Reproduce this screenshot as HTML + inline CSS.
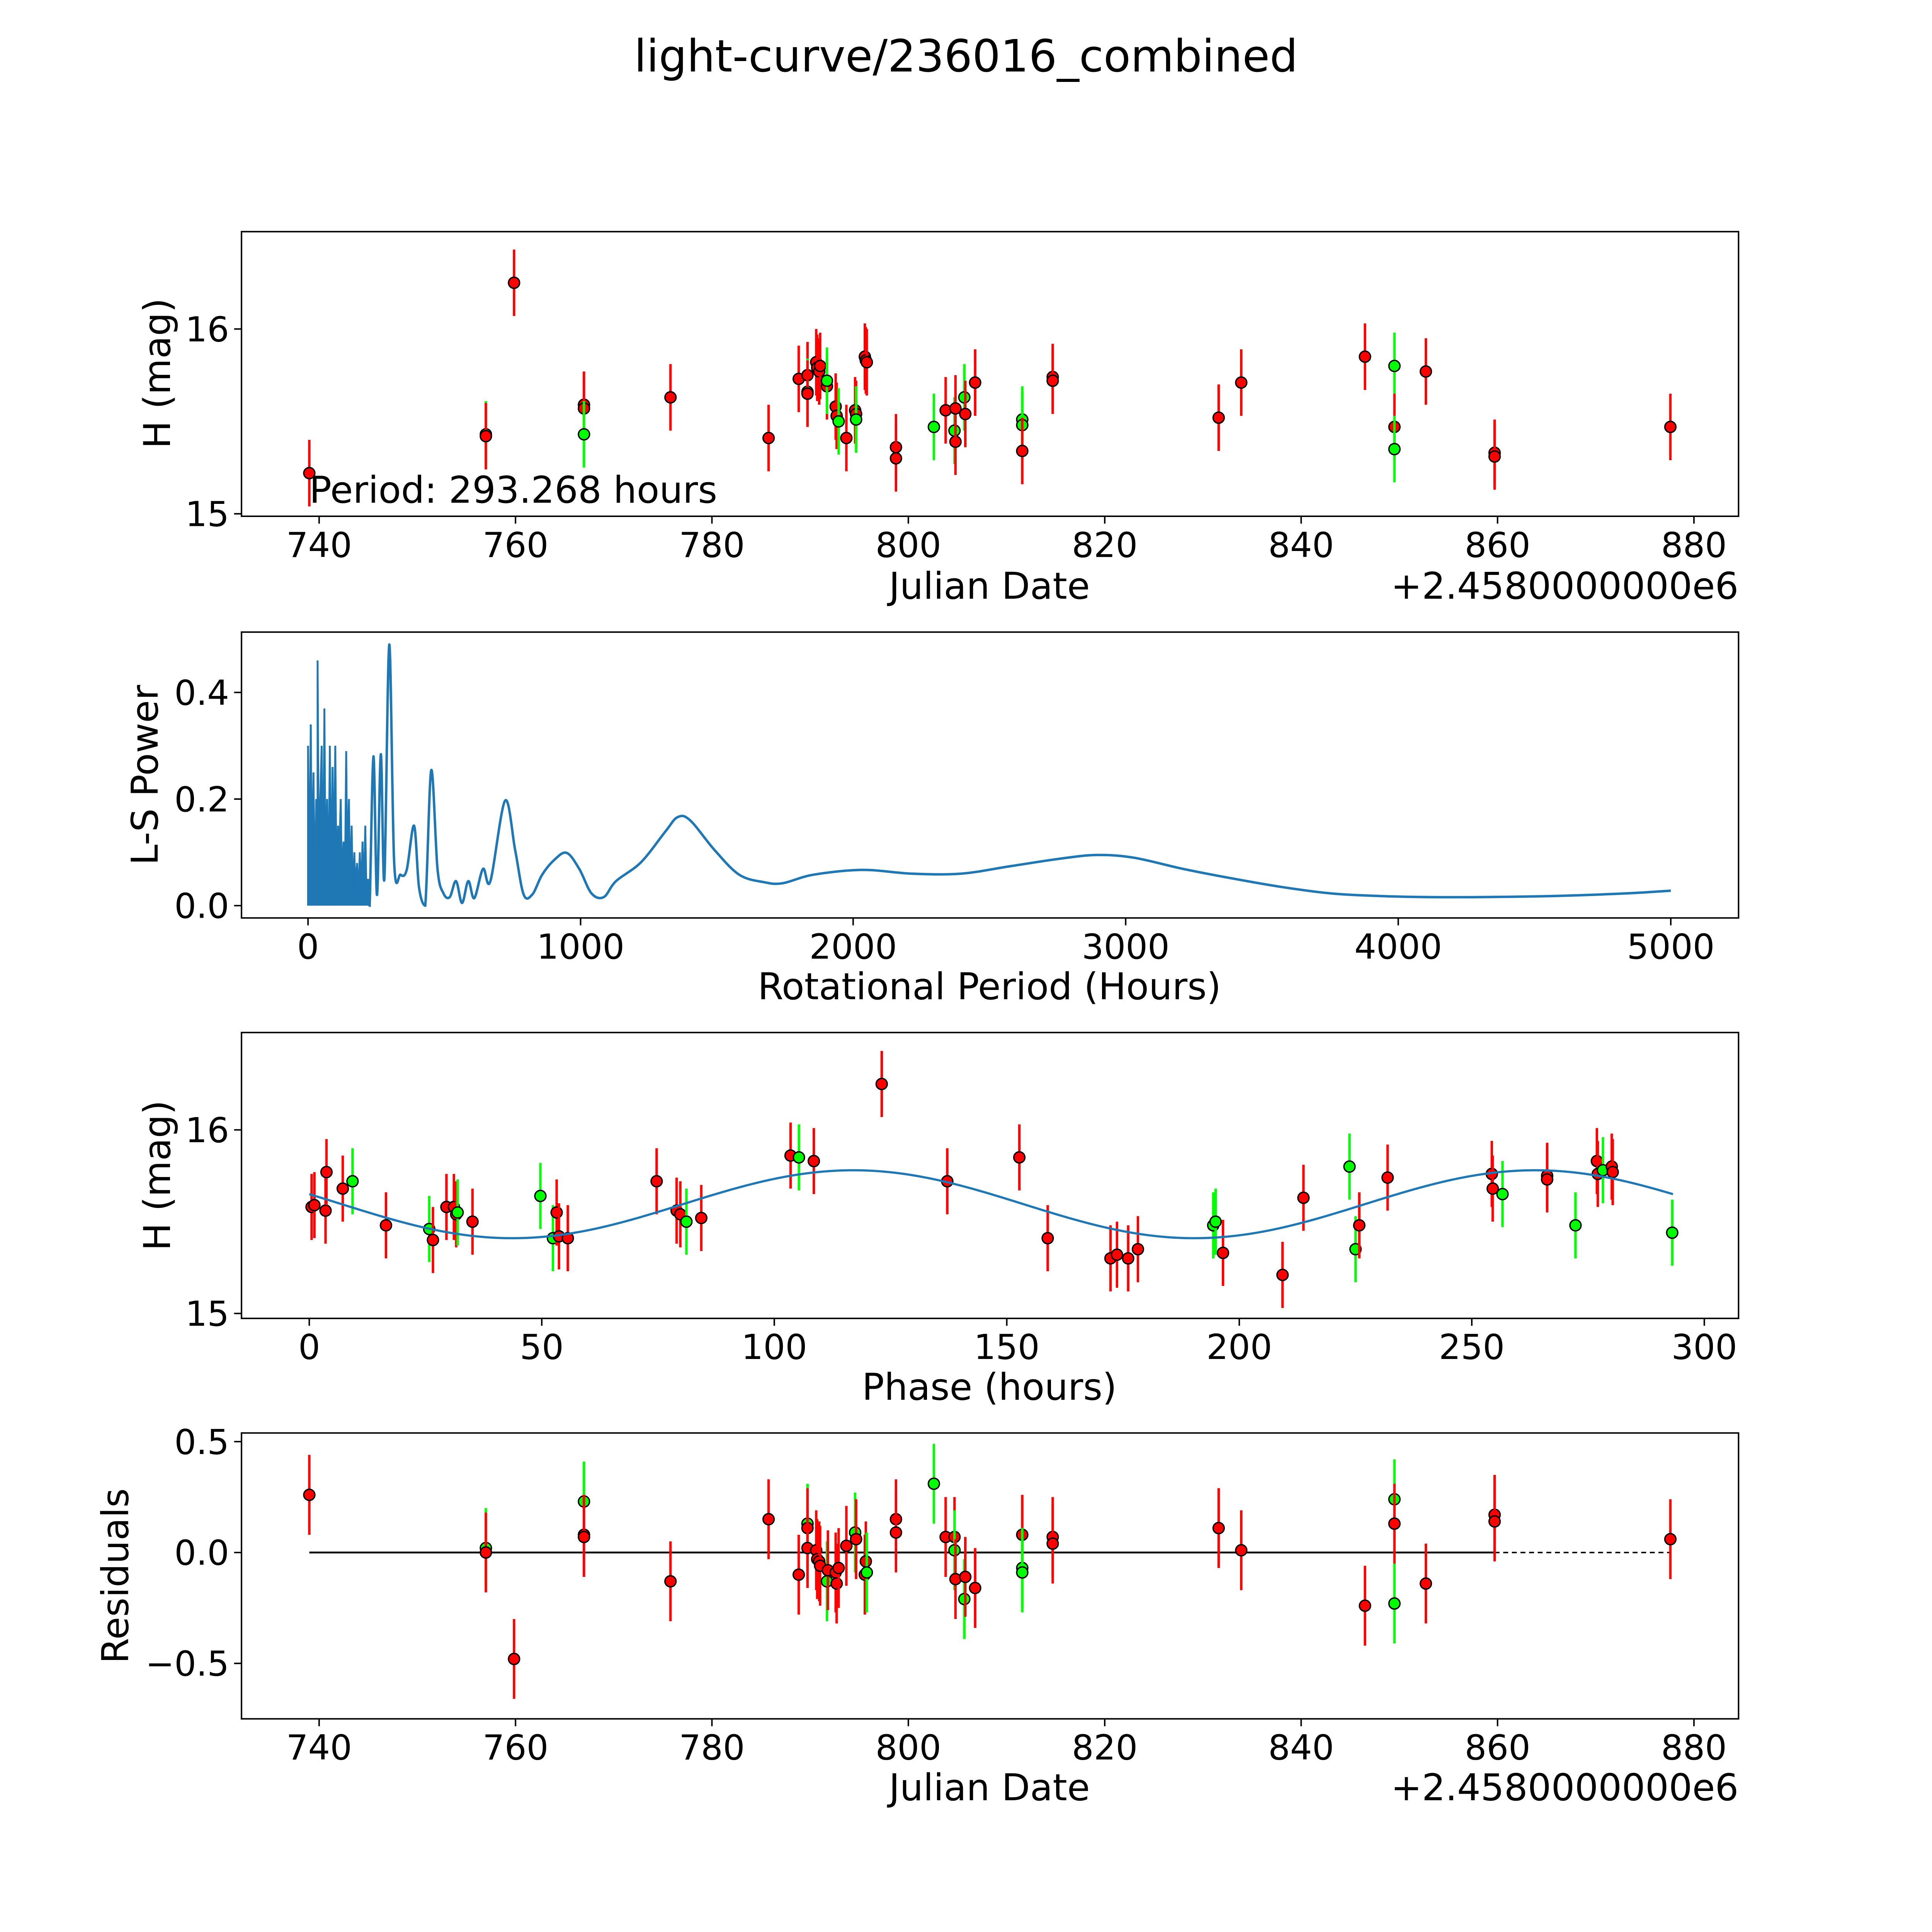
<!DOCTYPE html>
<html><head><meta charset="utf-8">
<style>
html,body{margin:0;padding:0;background:#fff;overflow:hidden;width:100vw;height:100vh;}
svg{display:block;position:fixed;left:0;top:0;width:100vw;height:100vh;font-family:"DejaVu Sans","Liberation Sans",sans-serif;}
</style></head>
<body>
<svg id="fig" xmlns="http://www.w3.org/2000/svg" viewBox="0 0 1568 1568" preserveAspectRatio="none">
<rect width="1568" height="1568" fill="#fff"/>
<text x="784" y="58" font-size="36" text-anchor="middle">light-curve/236016_combined</text>
<g id="p1"></g>
<g id="p2"></g>
<g id="p3"></g>
<g id="p4"></g>
</svg>
<script>
// ---- data ----
const lcDates=[739.0,756.98,756.98,759.85,766.97,766.97,766.97,775.78,785.77,788.84,789.73,789.73,789.73,790.62,790.72,790.92,791.02,791.71,791.71,792.60,792.70,792.90,793.69,794.58,794.68,794.68,795.57,795.67,795.77,798.74,798.74,802.6,803.8,804.7,804.8,804.8,805.7,805.8,806.8,811.6,811.6,811.6,814.7,814.7,831.6,833.9,846.5,849.5,849.5,849.5,852.7,859.7,859.7,877.6];
const lcMags=[15.22,15.43,15.42,16.25,15.59,15.57,15.43,15.63,15.41,15.73,15.75,15.66,15.65,15.82,15.79,15.77,15.80,15.69,15.72,15.58,15.53,15.50,15.41,15.56,15.54,15.51,15.85,15.83,15.82,15.36,15.30,15.47,15.56,15.45,15.39,15.57,15.63,15.54,15.71,15.51,15.48,15.34,15.74,15.72,15.52,15.71,15.85,15.80,15.47,15.35,15.77,15.33,15.31,15.47];
const lcColors=['r','g','r','r','r','r','g','r','r','r','r','g','r','r','r','r','r','r','g','r','r','g','r','r','r','g','r','r','r','r','r','g','r','g','r','r','g','r','r','g','g','r','r','r','r','r','r','g','r','g','r','r','r','r'];
const lcErr=0.18;

const lowPeriods=[0,5,10,15,20,25,30,35,40,45,50,55,60,65,70,75,80,85,90,95,100,105,110,115,120,125,130,135,140,145,150,155,160,165,170,175,180,185,190,195,200,205,210,215,220];
const lowPower=[0.3,0.05,0.34,0.1,0.25,0.02,0.2,0.46,0.05,0.2,0.3,0.02,0.37,0.1,0.2,0.02,0.3,0.05,0.26,0.1,0.3,0.02,0.15,0.1,0.2,0.05,0.12,0.02,0.29,0.1,0.2,0.03,0.15,0.02,0.1,0.05,0.08,0.02,0.1,0.03,0.12,0.02,0.15,0.02,0.05];
const hiPeriods=[226,240,253,267,280,298,316,339,362,389,407,430,452,475,497,520,543,565,588,610,642,669,723,760,791,823,859,904,949,995,1040,1085,1130,1221,1311,1356,1402,1492,1582,1673,1741,1854,2034,2215,2396,2577,2758,2893,3029,3210,3391,3572,3752,3933,4114,4295,4566,4837,5000];
const hiPower=[0.0,0.28,0.02,0.284,0.05,0.49,0.081,0.058,0.067,0.15,0.035,0.0,0.254,0.069,0.023,0.016,0.046,0.005,0.046,0.014,0.069,0.046,0.197,0.104,0.021,0.021,0.058,0.086,0.099,0.069,0.023,0.016,0.046,0.081,0.139,0.166,0.16,0.104,0.058,0.044,0.042,0.058,0.067,0.06,0.06,0.074,0.088,0.095,0.09,0.069,0.051,0.035,0.023,0.018,0.016,0.016,0.018,0.023,0.028];

const phHours=[0.5,1.1,3.5,3.7,7.2,9.3,16.5,25.8,26.6,29.5,31.1,31.6,31.9,35.1,49.7,52.4,53.2,53.7,55.6,74.7,79.0,79.8,81.1,84.3,103.5,105.3,108.5,123.1,137.2,152.7,158.8,172.3,173.7,176.1,178.2,194.4,194.9,196.5,209.3,213.8,223.7,225.0,225.8,231.9,254.3,254.5,256.6,266.2,266.2,272.3,276.9,277.1,278.2,280.1,280.3,293.1];
const phMags=[15.58,15.59,15.56,15.77,15.68,15.72,15.48,15.46,15.40,15.58,15.58,15.54,15.55,15.50,15.64,15.41,15.55,15.42,15.41,15.72,15.56,15.54,15.50,15.52,15.86,15.85,15.83,16.25,15.72,15.85,15.41,15.30,15.32,15.30,15.35,15.48,15.50,15.33,15.21,15.63,15.80,15.35,15.48,15.74,15.76,15.68,15.65,15.75,15.73,15.48,15.83,15.76,15.78,15.80,15.77,15.44];
const phColors=['r','r','r','r','r','g','r','g','r','r','r','r','g','r','g','g','r','r','r','r','r','r','g','r','r','g','r','r','r','r','r','r','r','r','r','g','g','r','r','r','g','g','r','r','r','r','g','r','r','g','r','r','g','r','r','g'];
const modelMean=15.595, modelAmp=0.185, modelPeriod=293.268, modelPhase=-3.442;

const resDates=[739.0,756.98,756.98,759.85,766.97,766.97,766.97,775.78,785.77,788.84,789.73,789.73,789.73,790.62,790.72,790.92,791.02,791.71,791.81,792.60,792.70,792.90,793.69,794.58,794.68,795.57,795.67,795.77,798.74,798.74,802.6,803.8,804.7,804.7,804.8,805.7,805.8,806.8,811.6,811.6,811.6,814.7,814.7,831.6,833.9,846.5,849.5,849.5,849.5,852.7,859.7,859.7,877.6];
const resVals=[0.26,0.02,0.0,-0.48,0.23,0.08,0.07,-0.13,0.15,-0.1,0.13,0.11,0.02,0.01,-0.03,-0.04,-0.06,-0.13,-0.08,-0.09,-0.14,-0.07,0.03,0.09,0.06,-0.10,-0.04,-0.09,0.15,0.09,0.31,0.07,0.07,0.01,-0.12,-0.21,-0.11,-0.16,0.08,-0.07,-0.09,0.07,0.04,0.11,0.01,-0.24,0.24,0.13,-0.23,-0.14,0.17,0.14,0.06];
const resColors=['r','g','r','r','g','r','r','r','r','r','g','r','r','r','r','r','r','g','r','r','r','r','r','g','r','r','r','g','r','r','g','r','r','g','r','g','r','r','r','g','g','r','r','r','r','r','g','r','g','r','r','r','r'];

// ---- helpers ----
const NS='http://www.w3.org/2000/svg';
function mk(parent,tag,attrs,text){const e=document.createElementNS(NS,tag);for(const k in attrs)e.setAttribute(k,attrs[k]);if(text!==undefined)e.textContent=text;parent.appendChild(e);return e;}
const L=196,R=1411;
const jdX=d=>259+(d-740)*7.97;
function frame(g,top,bot){
  const r=mk(g,'rect',{x:L,y:top,width:R-L,height:bot-top,fill:'none',stroke:'#000','stroke-width':1.2});
  
  
}
function xtick(g,x,bot,label){
  mk(g,'line',{x1:x,x2:x,y1:bot,y2:bot+6,stroke:'#000','stroke-width':1.2});
  const t=mk(g,'text',{x:x,y:bot+33,'font-size':28,'text-anchor':'middle'},label);
  
  
}
function ytick(g,y,label){
  mk(g,'line',{x1:L-6,x2:L,y1:y,y2:y,stroke:'#000','stroke-width':1.2});
  const t=mk(g,'text',{x:L-10,y:y+10,'font-size':28,'text-anchor':'end'},label);
  
  
}
function xlabel(g,y,label,name){
  const t=mk(g,'text',{x:803,y:y,'font-size':30,'text-anchor':'middle'},label);
  
  
}
function ylabel(g,x,y,label,name){
  const t=mk(g,'text',{x:x,y:y,'font-size':30,'text-anchor':'middle',transform:`rotate(-90 ${x} ${y})`},label);
  
  
}
function point(g,x,y,ePx,c,name){
  const col=c==='g'?'#00ff00':'#ff0000';
  const l=mk(g,'line',{x1:x,x2:x,y1:y-ePx,y2:y+ePx,stroke:col,'stroke-width':2});
  
  
  const p=mk(g,'circle',{cx:x,cy:y,r:4.5,fill:col,stroke:'#000','stroke-width':1.1});
  
  
}
const jdTicks=[740,760,780,800,820,840,860,880];

// ---- panel 1 ----
(function(){
  const g=document.getElementById('p1'),top=188,bot=419;
  const yS=m=>267-(m-16)*150;
  lcDates.forEach((d,i)=>point(g,jdX(d),yS(lcMags[i]),lcErr*150,lcColors[i],'lc-point'));
  frame(g,top,bot);
  jdTicks.forEach(v=>xtick(g,jdX(v),bot,v));
  [16,15].forEach(v=>ytick(g,yS(v),v));
  xlabel(g,486,'Julian Date','x-axis-title');
  const o=mk(g,'text',{x:R,y:486,'font-size':30,'text-anchor':'end'},'+2.4580000000e6');
  
  
  ylabel(g,138,303,'H (mag)','y-axis-title');
  const pt=mk(g,'text',{x:251,y:408,'font-size':30},'Period: 293.268 hours');
  
  
})();

// ---- panel 2 ----
(function(){
  const g=document.getElementById('p2'),top=513,bot=745;
  const xS=h=>250+h*0.2212, yS=p=>735-p*432.5;
  // smooth (Catmull-Rom) path through high-period part
  const xs=[xS(lowPeriods[lowPeriods.length-1])].concat(hiPeriods.map(xS));
  const ys=[yS(lowPower[lowPower.length-1])].concat(hiPower.map(yS));
  let d='M'+xs[0].toFixed(2)+','+ys[0].toFixed(2);
  for(let i=0;i<xs.length-1;i++){
    const x0=xs[Math.max(i-1,0)],y0=ys[Math.max(i-1,0)],x1=xs[i],y1=ys[i],x2=xs[i+1],y2=ys[i+1],x3=xs[Math.min(i+2,xs.length-1)],y3=ys[Math.min(i+2,xs.length-1)];
    const c1x=x1+(x2-x0)/6,c1y=y1+(y2-y0)/6,c2x=x2-(x3-x1)/6,c2y=y2-(y3-y1)/6;
    d+='C'+c1x.toFixed(2)+','+Math.min(c1y,735).toFixed(2)+' '+c2x.toFixed(2)+','+Math.min(c2y,735).toFixed(2)+' '+x2.toFixed(2)+','+y2.toFixed(2);
  }
  let d2='';
  lowPeriods.forEach((h,i)=>{d2+=(i?'L':'M')+xS(h).toFixed(2)+','+yS(i%2?0:lowPower[i]).toFixed(2)+'L'+xS(h).toFixed(2)+','+yS(lowPower[i]).toFixed(2);});
  let d3='';
  lowPeriods.forEach((h,i)=>{d3+='M'+xS(h).toFixed(2)+','+yS(0)+'L'+xS(h).toFixed(2)+','+yS(lowPower[i]).toFixed(2);});
  const pl=mk(g,'path',{d:d,fill:'none',stroke:'#1f77b4','stroke-width':2});
  
  
  const pl2=mk(g,'path',{d:d2,fill:'none',stroke:'#1f77b4','stroke-width':1.5});
  
  
  const pl3=mk(g,'path',{d:d3,fill:'none',stroke:'#1f77b4','stroke-width':1.5});
  
  
  frame(g,top,bot);
  [0,1000,2000,3000,4000,5000].forEach(v=>xtick(g,xS(v),bot,v));
  [0,0.2,0.4].forEach(v=>ytick(g,yS(v),v.toFixed(1)));
  xlabel(g,811,'Rotational Period (Hours)','x-axis-title');
  ylabel(g,128,629,'L-S Power','y-axis-title');
})();

// ---- panel 3 ----
(function(){
  const g=document.getElementById('p3'),top=838,bot=1070;
  const xS=h=>251+h*3.774, yS=m=>917-(m-16)*149;
  phHours.forEach((h,i)=>point(g,xS(h),yS(phMags[i]),lcErr*149,phColors[i],'phase-point'));
  let d='';
  for(let i=0;i<=300;i++){const h=i*modelPeriod/300;const m=modelMean+modelAmp*Math.sin(4*Math.PI*h/modelPeriod+modelPhase);d+=(i?'L':'M')+xS(h).toFixed(2)+','+yS(m).toFixed(2);}
  const c=mk(g,'path',{d:d,fill:'none',stroke:'#1f77b4','stroke-width':1.8});
  
  
  frame(g,top,bot);
  [0,50,100,150,200,250,300].forEach(v=>xtick(g,xS(v),bot,v));
  [16,15].forEach(v=>ytick(g,yS(v),v));
  xlabel(g,1136,'Phase (hours)','x-axis-title');
  ylabel(g,138,954,'H (mag)','y-axis-title');
})();

// ---- panel 4 ----
(function(){
  const g=document.getElementById('p4'),top=1163,bot=1395;
  const yS=v=>1260-v*180;
  const z1=mk(g,'line',{x1:jdX(739),x2:jdX(859.7),y1:yS(0),y2:yS(0),stroke:'#000','stroke-width':1.5});
  
  
  const z2=mk(g,'line',{x1:jdX(859.7),x2:jdX(877.6),y1:yS(0),y2:yS(0),stroke:'#000','stroke-width':1.2,'stroke-dasharray':'4,3'});
  
  
  resDates.forEach((d,i)=>point(g,jdX(d),yS(resVals[i]),lcErr*180,resColors[i],'residual-point'));
  frame(g,top,bot);
  jdTicks.forEach(v=>xtick(g,jdX(v),bot,v));
  [[0.5,'0.5'],[0,'0.0'],[-0.5,'\u22120.5']].forEach(v=>ytick(g,yS(v[0]),v[1]));
  xlabel(g,1461,'Julian Date','x-axis-title');
  const o=mk(g,'text',{x:R,y:1461,'font-size':30,'text-anchor':'end'},'+2.4580000000e6');
  
  
  ylabel(g,104,1279,'Residuals','y-axis-title');
})();
</script>
</body></html>
